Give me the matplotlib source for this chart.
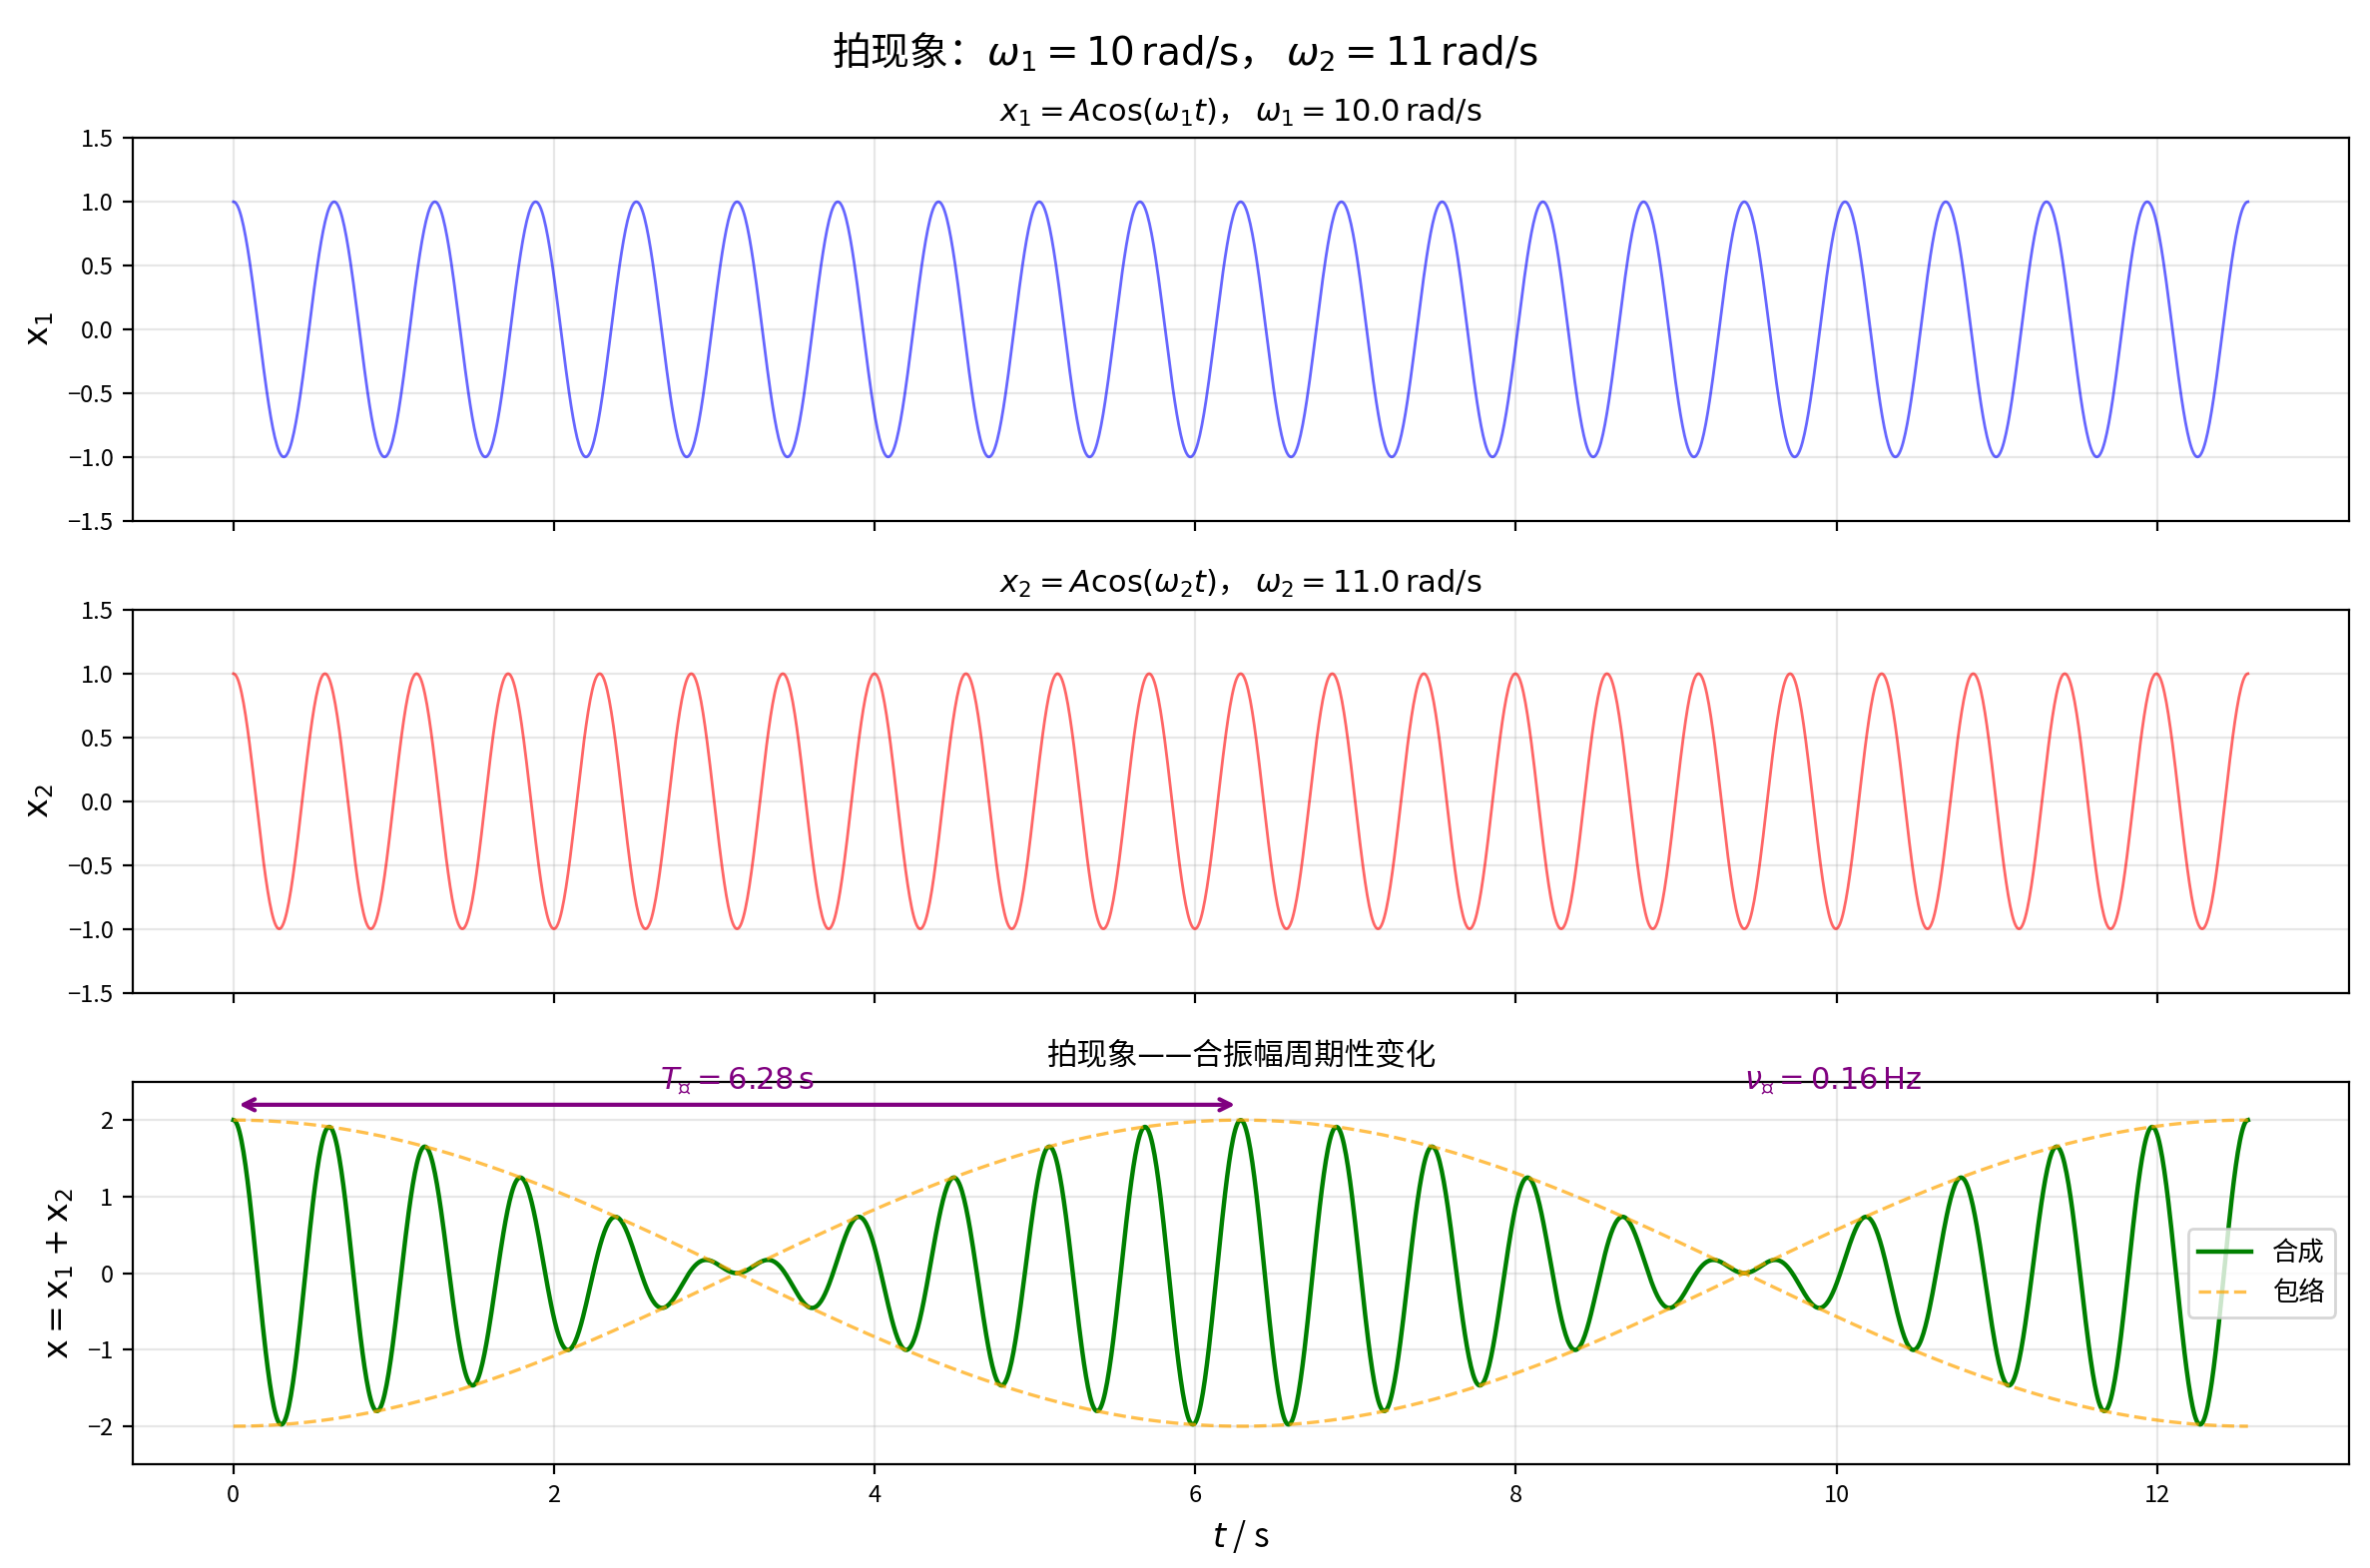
import numpy as np
import matplotlib
matplotlib.use("Agg")
import matplotlib.pyplot as plt

# beat parameters
A = 1.0
omega1 = 10.0   # rad/s
omega2 = 11.0   # rad/s
t_end = 4 * np.pi
n_samples = 2000

plt.rcParams['font.family'] = ['Noto Sans CJK SC', 'DejaVu Sans']
plt.rcParams['axes.unicode_minus'] = True
plt.rcParams['xtick.labelsize'] = 8.5
plt.rcParams['ytick.labelsize'] = 8.5

t = np.linspace(0, t_end, n_samples)
x1 = A * np.cos(omega1 * t)
x2 = A * np.cos(omega2 * t)
x = x1 + x2
d_omega = omega2 - omega1
envelope = 2 * A * np.cos(d_omega * t / 2)
T_beat = 2 * np.pi / d_omega
nu_beat = d_omega / (2 * np.pi)

fig, axes = plt.subplots(3, 1, figsize=(11.87, 7.855), dpi=200, sharex=True)
fig.subplots_adjust(left=0.056, right=0.991, top=0.912, bottom=0.066, hspace=0.233)

ax = axes[0]
ax.plot(t, x1, color='blue', alpha=0.6, lw=1)
ax.set_title(rf'$x_1 = A\cos(\omega_1 t)$， $\omega_1 = {omega1:.1f}\,\mathrm{{rad/s}}$', fontsize=11)
ax.set_ylabel(r'$\mathrm{x}_1$', fontsize=12)
ax.set_ylim(-1.5, 1.5)
ax.grid(True, alpha=0.3)

ax = axes[1]
ax.plot(t, x2, color='red', alpha=0.6, lw=1)
ax.set_title(rf'$x_2 = A\cos(\omega_2 t)$， $\omega_2 = {omega2:.1f}\,\mathrm{{rad/s}}$', fontsize=11)
ax.set_ylabel(r'$\mathrm{x}_2$', fontsize=12)
ax.set_ylim(-1.5, 1.5)
ax.grid(True, alpha=0.3)

ax = axes[2]
ax.plot(t, x, color='green', lw=1.6, label='合成')
ax.plot(t, envelope, color='orange', ls='--', alpha=0.7, lw=1.2, label='包络')
ax.plot(t, -envelope, color='orange', ls='--', alpha=0.7, lw=1.2)
ax.annotate('', xy=(T_beat, 2.2), xytext=(0, 2.2),
            arrowprops=dict(arrowstyle='<->', color='purple', lw=1.5))
ax.text(T_beat / 2, 2.3, rf'$T_{{拍}} = {T_beat:.2f}\,\mathrm{{s}}$', color='purple',
        ha='center', va='bottom', fontsize=11)
ax.text(1.5 * T_beat, 2.3, rf'$\nu_{{拍}} = {nu_beat:.2f}\,\mathrm{{Hz}}$', color='purple',
        ha='left', va='bottom', fontsize=11)
ax.set_title('拍现象——合振幅周期性变化', fontsize=11)
ax.set_ylabel(r'$\mathrm{x} = \mathrm{x}_1 + \mathrm{x}_2$', fontsize=12)
ax.set_xlabel(r'$t$ / s', fontsize=12)
ax.set_ylim(-2.5, 2.5)
ax.grid(True, alpha=0.3)
ax.legend(loc='center right', fontsize=9.5)

fig.suptitle(rf'拍现象：$\omega_1 = {omega1:.0f}\,\mathrm{{rad/s}}$， $\omega_2 = {omega2:.0f}\,\mathrm{{rad/s}}$',
             fontsize=14)
fig.savefig('out.png', dpi=200)
